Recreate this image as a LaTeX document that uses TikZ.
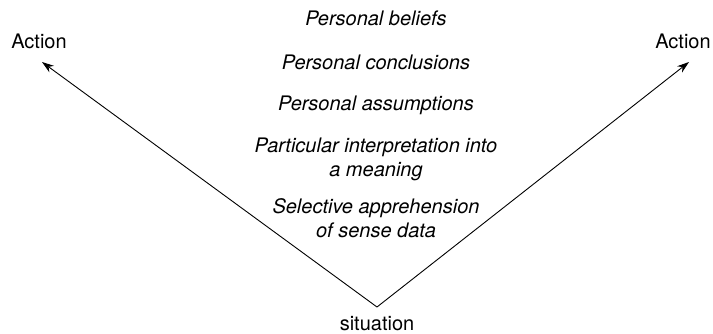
\documentclass[tikz,border=0pt]{standalone}
\usepackage{fontspec}
\setmainfont{TeX Gyre Heros}
\usetikzlibrary{arrows.meta}

\begin{document}
\begin{tikzpicture}[x=1pt, y=-1pt,
    every node/.style={font=\fontsize{20}{24}\selectfont, inner sep=0pt},
    level/.style={font=\fontsize{20}{24}\selectfont\itshape, align=center, anchor=base}]
	\useasboundingbox (0,0) rectangle (713,333);
	\node[anchor=base] (actL) at (39,48) {Action};
	\node[anchor=base] (actR) at (683,48) {Action};
	\node[anchor=base] (sit) at (377,330) {situation};
	\coordinate (v) at (377,307);
	\coordinate (tipL) at (42,62);
	\coordinate (tipR) at (689,62);
	\node[level] (beliefs) at (376,25) {Personal beliefs};
	\node[level] (concl) at (376,69) {Personal conclusions};
	\node[level] (assum) at (376,110) {Personal assumptions};
	\node[level] (interp) at (376,176) {Particular interpretation into\\a meaning};
	\node[level] (select) at (376,237) {Selective apprehension\\of sense data};
	\draw[line width=0.9pt, -{Stealth[length=12pt,width=8pt]}] (v) -- (tipL);
	\draw[line width=0.9pt, -{Stealth[length=12pt,width=8pt]}] (v) -- (tipR);
\end{tikzpicture}
\end{document}
